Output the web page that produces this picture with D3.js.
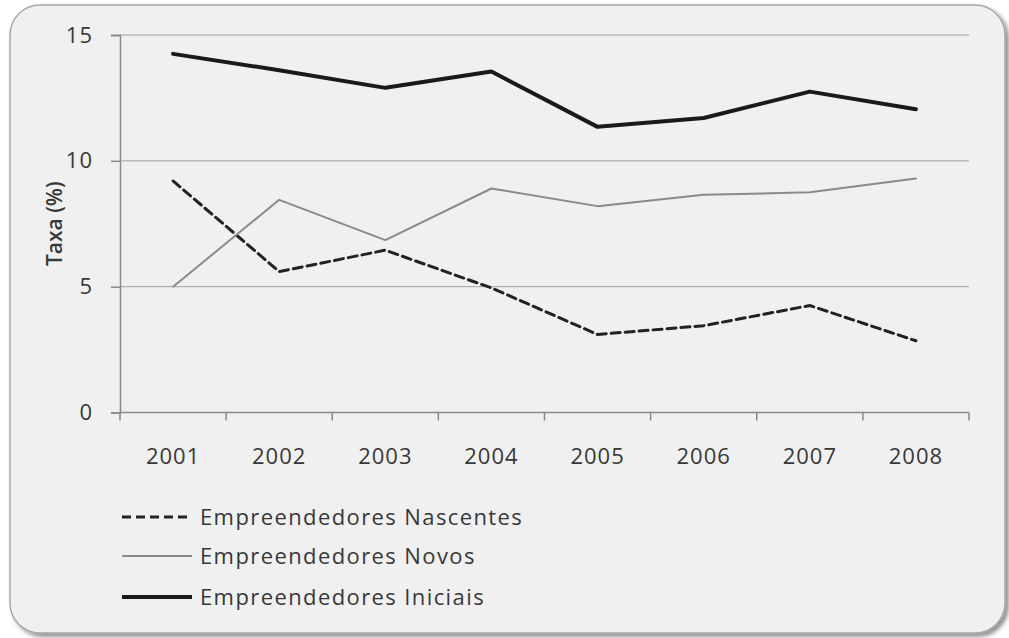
<!DOCTYPE html>
<meta charset="utf-8">
<html>
  <head>
    <style>
      body { margin: 0; background: #ffffff; }
      #chart text { font-family: "Open Sans", sans-serif; fill: #383838; }
    </style>
    <script src="https://d3js.org/d3.v7.min.js"></script>
  </head>
  <body>
<div id="chart"></div>
<script>

// data
var years = ["2001", "2002", "2003", "2004", "2005", "2006", "2007", "2008"];
var nascentes = [9.2, 5.6, 6.45, 4.95, 3.1, 3.45, 4.25, 2.85];
var novos = [5.0, 8.45, 6.85, 8.9, 8.2, 8.65, 8.75, 9.3];
var iniciais = [14.25, 13.6, 12.9, 13.55, 11.35, 11.7, 12.75, 12.05];
var yTicks = [0, 5, 10, 15];
var seriesNames = ["Empreendedores Nascentes", "Empreendedores Novos", "Empreendedores Iniciais"];

var W = 1009, H = 638;
var margin = {top: 35, right: 40, bottom: 225, left: 120},
  width = 969 - margin.left,
  height = 412.5 - margin.top;

var svg = d3.select("#chart").append("svg")
  .attr("width", W)
  .attr("height", H);

// shadow + rounded frame
var defs = svg.append("defs");
var f = defs.append("filter").attr("id", "shadow").attr("x", "-5%").attr("y", "-5%").attr("width", "115%").attr("height", "115%");
f.append("feDropShadow").attr("dx", 3).attr("dy", 3).attr("stdDeviation", 2).attr("flood-color", "#000").attr("flood-opacity", 0.45);

svg.append("rect")
  .attr("x", 10).attr("y", 5)
  .attr("width", 995).attr("height", 628)
  .attr("rx", 30).attr("ry", 30)
  .attr("fill", "#f0f0f0")
  .attr("stroke", "#a8a8a8")
  .attr("stroke-width", 1.5)
  .attr("filter", "url(#shadow)");

var g = svg.append("g")
  .attr("transform", "translate(" + margin.left + "," + margin.top + ")");

var x = d3.scaleBand().domain(years).range([0, width]);
var y = d3.scaleLinear().domain([0, 15]).range([height, 0]);

// gridlines
g.selectAll(".grid")
  .data(yTicks.filter(function(d) { return d > 0; }))
  .enter().append("line")
  .attr("x1", 0).attr("x2", width)
  .attr("y1", function(d) { return y(d); })
  .attr("y2", function(d) { return y(d); })
  .attr("stroke", "#a0a0a0")
  .attr("stroke-width", 1);

// y axis
var yAxis = g.append("g")
  .call(d3.axisLeft(y).tickValues(yTicks).tickSize(9).tickPadding(18));
yAxis.select(".domain").attr("stroke", "#888").attr("stroke-width", 1.5);
yAxis.selectAll(".tick line").attr("stroke", "#888").attr("stroke-width", 1.5);
yAxis.selectAll("text").style("font-size", "22px").style("letter-spacing", "1px").attr("fill", "#383838");

// x axis with ticks at band edges
var xAxis = g.append("g")
  .attr("transform", "translate(0," + height + ")");
xAxis.append("line")
  .attr("x1", 0).attr("x2", width)
  .attr("stroke", "#888").attr("stroke-width", 1.5);
xAxis.selectAll(".xt")
  .data(years.concat(["end"]))
  .enter().append("line")
  .attr("x1", function(d, i) { return i * x.bandwidth(); })
  .attr("x2", function(d, i) { return i * x.bandwidth(); })
  .attr("y1", 0).attr("y2", 8)
  .attr("stroke", "#888").attr("stroke-width", 1.5);
xAxis.selectAll(".xl")
  .data(years)
  .enter().append("text")
  .attr("x", function(d) { return x(d) + x.bandwidth() / 2; })
  .attr("y", 51)
  .attr("text-anchor", "middle")
  .style("font-size", "22px")
  .style("letter-spacing", "1px")
  .text(function(d) { return d; });

// y label
g.append("text")
  .attr("transform", "translate(-58," + (y(7.5)) + ") rotate(-90)")
  .attr("text-anchor", "middle")
  .style("font-size", "21px")
  .style("font-weight", "600")
  .attr("fill", "#222")
  .text("Taxa (%)");

var line = d3.line()
  .x(function(d, i) { return x(years[i]) + x.bandwidth() / 2; })
  .y(function(d) { return y(d); });

var styles = [
  {data: nascentes, stroke: "#222", width: 3, dash: "9,5"},
  {data: novos, stroke: "#8a8a8a", width: 2, dash: null},
  {data: iniciais, stroke: "#1a1a1a", width: 4, dash: null}
];

styles.forEach(function(s) {
  g.append("path")
    .datum(s.data)
    .attr("d", line)
    .attr("fill", "none")
    .attr("stroke", s.stroke)
    .attr("stroke-width", s.width)
    .attr("stroke-dasharray", s.dash)
    .attr("stroke-linejoin", "round")
    .attr("stroke-linecap", "round");
});

// legend
var legendY = [517, 556, 597];
var legend = svg.selectAll(".leg")
  .data(styles)
  .enter().append("g")
  .attr("transform", function(d, i) { return "translate(122," + legendY[i] + ")"; });
legend.append("line")
  .attr("x1", 0).attr("x2", 70)
  .attr("stroke", function(d) { return d.stroke; })
  .attr("stroke-width", function(d) { return d.width; })
  .attr("stroke-dasharray", function(d) { return d.dash; });
legend.append("text")
  .attr("x", 78)
  .attr("dy", "0.35em")
  .style("font-size", "22px")
  .style("letter-spacing", "1.4px")
  .text(function(d, i) { return seriesNames[i]; });

</script>
</body>
</html>
